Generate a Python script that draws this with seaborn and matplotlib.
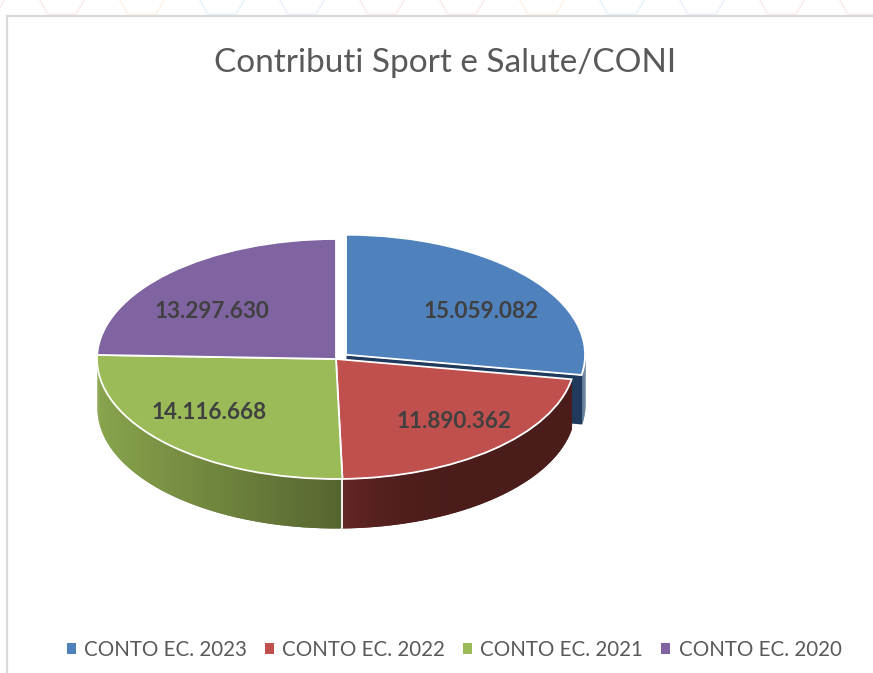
import numpy as np
import seaborn as sns
import matplotlib.pyplot as plt
from matplotlib.colors import to_rgb
from matplotlib.patches import RegularPolygon, Rectangle

sns.set_theme(style='white')
plt.rcParams['font.family'] = ['Lato', 'DejaVu Sans']

categories = ['CONTO EC. 2023', 'CONTO EC. 2022', 'CONTO EC. 2021', 'CONTO EC. 2020']
values = [15059082, 11890362, 14116668, 13297630]
colors = ['#4f81bd', '#c0504d', '#9bbb59', '#8064a2']
title = 'Contributi Sport e Salute/CONI'

W, H = 873, 673
CX, CY, RX, RY = 336, 359, 239, 120
DEPTH = 49 / RY


def label(v):
    return f'{v:,}'.replace(',', '.')


def blend(c0, c1, f):
    return tuple(a + (b - a) * f for a, b in zip(to_rgb(c0), to_rgb(c1)))


def wall(ax, t0, t1, c0, c1, center=(0, 0), z=0.5, power=1):
    # rim of a slice, cut in strips so the shading runs across it
    ts = np.radians(np.linspace(t0, t1, 120))
    xs = center[0] + np.sin(ts)
    ys = center[1] + np.cos(ts)
    for i in range(len(ts) - 1):
        f = (abs(xs[i] - xs[0]) / abs(xs[-1] - xs[0])) ** power
        # each strip runs on under the next one, which hides the seams
        j = min(i + 3, len(ts))
        ax.fill_between(xs[i:j], ys[i:j], ys[i:j] - DEPTH,
                        color=blend(c0, c1, f), lw=0, zorder=z + i * 1e-4)


fig = plt.figure(figsize=(W / 100, H / 100), dpi=100)

# page behind the chart
bg = fig.add_axes([0, 0, 1, 1])
bg.set_xlim(0, W)
bg.set_ylim(H, 0)
bg.axis('off')
pale = ['#fdeeee', '#fdecec', '#fdf3e6', '#e9f5fb', '#eef2fb']
for i, x in enumerate(range(-18, W + 60, 80)):
    bg.add_patch(RegularPolygon((x, -10), 6, radius=28, orientation=np.pi / 6,
                                fill=False, ec=pale[i % len(pale)], lw=1.3))
bg.add_patch(Rectangle((7, 16), W, H, fc='white', ec='#d9d9d9', lw=1.6))

# pie on an axes squeezed so the circle reads as a flat disc
ax = fig.add_axes([0, 0, 1, 1])
ax.patch.set_alpha(0)
wedges, _ = ax.pie(values, colors=colors, startangle=90, counterclock=False,
                   explode=[0.055, 0, 0, 0],
                   wedgeprops={'edgecolor': 'white', 'linewidth': 1.3, 'zorder': 1})
ax.set_aspect('auto')
ax.set_xlim(-CX / RX, (W - CX) / RX)
ax.set_ylim((CY - H) / RY, CY / RY)

shares = np.cumsum(values) / np.sum(values) * 360
blue_end, red_end, green_end = shares[0], shares[1], shares[2]

# blue slice: cut face first, then its small piece of rim
ox, oy = wedges[0].center
tb = np.radians(blue_end)
cut_x = np.array([ox, ox + np.sin(tb)])
cut_y = np.array([oy, oy + np.cos(tb)])
ax.fill_between(cut_x, cut_y, cut_y - DEPTH, color='#1f3a5c', lw=0, zorder=0.2)
wall(ax, 90, blue_end, '#6f8aa3', '#4a6884', center=(ox, oy), z=0.3)

wall(ax, blue_end, red_end, '#4a1c1a', '#662626', power=5)
wall(ax, red_end, 270, '#566530', '#88a44c')
tr = np.radians(red_end)
ax.plot([np.sin(tr), np.sin(tr)], [np.cos(tr), np.cos(tr) - DEPTH], color='white', lw=1.3, zorder=0.7)

# text
fig.text(445.5 / W, 1 - 63.5 / H, title, ha='center', va='center', fontsize=24, color='#595959')
label_pos = [(481, 312), (454, 421), (209, 412), (212, 312)]
for v, (x, y) in zip(values, label_pos):
    fig.text(x / W, 1 - y / H, label(v), ha='center', va='center',
             fontsize=16.2, fontweight='bold', color='#404040')

fig.legend(wedges, categories, loc='center', bbox_to_anchor=(454 / W, 1 - 650 / H), ncol=4,
           frameon=False, fontsize=14.8, labelcolor='#595959', handlelength=0.44, handleheight=0.44,
           handletextpad=0.4, columnspacing=0.88)
for h in fig.legends[0].legend_handles:
    h.set_edgecolor('none')

fig.savefig('out.png', dpi=100)
